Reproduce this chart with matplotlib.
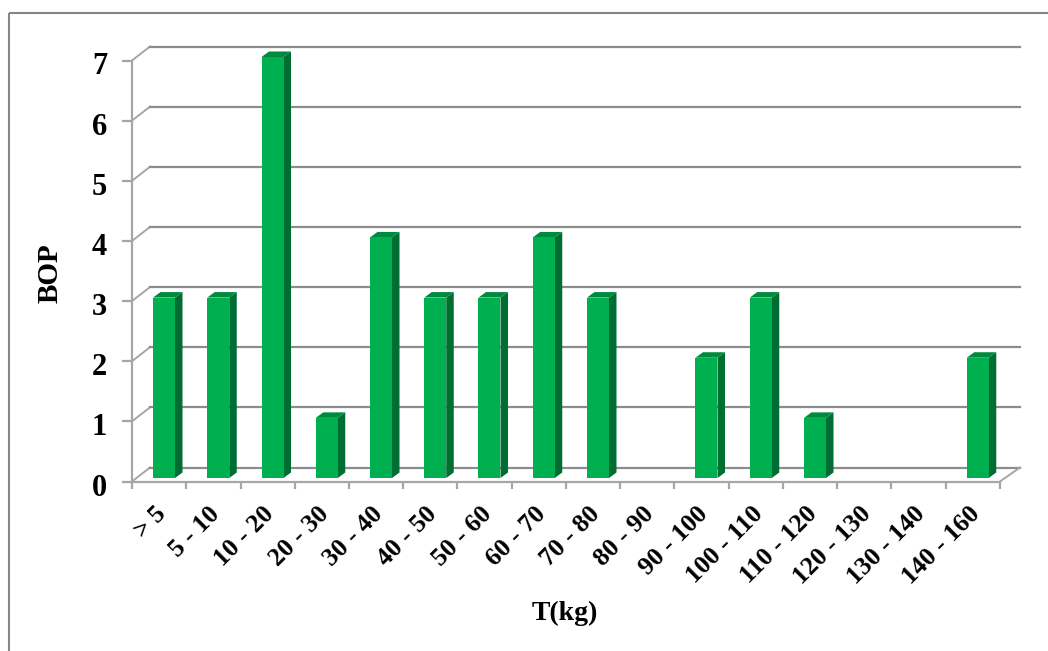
#!/usr/bin/env python3
"""Columnas 3D (falso) de BOP por rango de T(kg)."""

import matplotlib
matplotlib.use("Agg")
import matplotlib.pyplot as plt
from matplotlib.patches import Polygon, Rectangle
from matplotlib.transforms import ScaledTranslation

W, H = 1048, 651

categories = ["> 5", "5 - 10", "10 - 20", "20 - 30", "30 - 40", "40 - 50", "50 - 60",
              "60 - 70", "70 - 80", "80 - 90", "90 - 100", "100 - 110", "110 - 120",
              "120 - 130", "130 - 140", "140 - 160"]
values = [3, 3, 7, 1, 4, 3, 3, 4, 3, 0, 2, 3, 1, 0, 0, 2]
y_ticks = [0, 1, 2, 3, 4, 5, 6, 7]

GRID = "#8c8c8c"
AXIS = "#a6a6a6"
FRONT = "#00b050"
SIDE = "#006e32"
TOP = "#008a3e"

plt.rcParams["font.family"] = ["Liberation Serif", "DejaVu Serif"]
plt.rcParams["font.weight"] = "bold"

fig = plt.figure(figsize=(W / 100, H / 100), dpi=100)

# marco exterior: solo se ven arriba e izquierda, el resto sale de la imagen
bg = fig.add_axes([0, 0, 1, 1])
bg.set_xlim(0, W)
bg.set_ylim(H, 0)
bg.axis("off")
bg.add_patch(Rectangle((9, 13), 1100, 700, fill=False, edgecolor="#868686", linewidth=1.5, clip_on=True))

# plano frontal del grafico: x de 132 a 1000 px, y de 481.5 a 60.5 px
x0, x1, y0, y1 = 132, 1000, 481.5, 60.5
ax = fig.add_axes([x0 / W, 1 - y0 / H, (x1 - x0) / W, (y0 - y1) / H])
n = len(categories)
ax.set_xlim(0, n)
ax.set_ylim(0, 7)
ax.patch.set_alpha(0)
for s in ax.spines.values():
    s.set_visible(False)

unit_x = (x1 - x0) / n
unit_y = (y0 - y1) / 7
dx = 18 / unit_x
dx_right = 20 / unit_x
dy = 14 / unit_y

# rejilla del plano trasero y piso
for v in y_ticks:
    ax.plot([0, dx], [v, v + dy], color=AXIS, lw=1.4, clip_on=False, zorder=1)
    ax.plot([dx, n + dx_right], [v + dy, v + dy], color=GRID, lw=1.6, clip_on=False, zorder=1)
ax.plot([n, n + dx_right], [0, dy], color=AXIS, lw=1.4, clip_on=False, zorder=1)
ax.plot([0, n], [0, 0], color=AXIS, lw=1.6, clip_on=False, zorder=2)
ax.plot([0, 0], [0, 7], color=AXIS, lw=1.6, clip_on=False, zorder=2)

# columnas
bar_w = 22 / unit_x
off_x = 21 / unit_x
off_y = 3.5 / unit_y
dep_x = 7.5 / unit_x
dep_y = 5.5 / unit_y
for i, v in enumerate(values):
    if v == 0:
        continue
    left = i + off_x
    right = left + bar_w
    low = off_y
    high = v + off_y
    ax.add_patch(Polygon([(right, low), (right + dep_x, low + dep_y), (right + dep_x, high + dep_y), (right, high)],
                         closed=True, facecolor=SIDE, edgecolor="none", zorder=3, clip_on=False))
    ax.add_patch(Polygon([(left, high), (left + dep_x, high + dep_y), (right + dep_x, high + dep_y), (right, high)],
                         closed=True, facecolor=TOP, edgecolor="none", zorder=3, clip_on=False))
    ax.add_patch(Rectangle((left, low), bar_w, v, facecolor=FRONT, edgecolor="none",
                           zorder=4, clip_on=False))

ax.set_yticks(y_ticks)
ax.set_yticklabels([str(v) for v in y_ticks], fontsize=22, fontweight="bold")
ax.set_xticks(range(n + 1))
ax.set_xticklabels([""] * (n + 1))
ax.tick_params(axis="y", color=AXIS, width=1.6, length=7, pad=11)
ax.tick_params(axis="x", color=AXIS, width=1.6, length=5)

# las etiquetas del eje y van unos pixeles por debajo de la marca
shift_down = ScaledTranslation(0, -3 / 100, fig.dpi_scale_trans)
for t in ax.get_yticklabels():
    t.set_transform(t.get_transform() + shift_down)

for i, label in enumerate(categories):
    ax.annotate(label, (i + 0.5, 0), xytext=(-5, -21), textcoords="offset pixels", rotation=45,
                rotation_mode="anchor", ha="right", va="top", fontsize=18.5, fontweight="bold", color="black",
                annotation_clip=False)

fig.text(50 / W, 1 - 273 / H, "BOP", rotation=90, ha="center", va="center", fontsize=21, fontweight="bold")
fig.text(565 / W, 1 - 613 / H, "T(kg)", ha="center", va="center", fontsize=20, fontweight="bold")

fig.savefig("out.png", dpi=100)
